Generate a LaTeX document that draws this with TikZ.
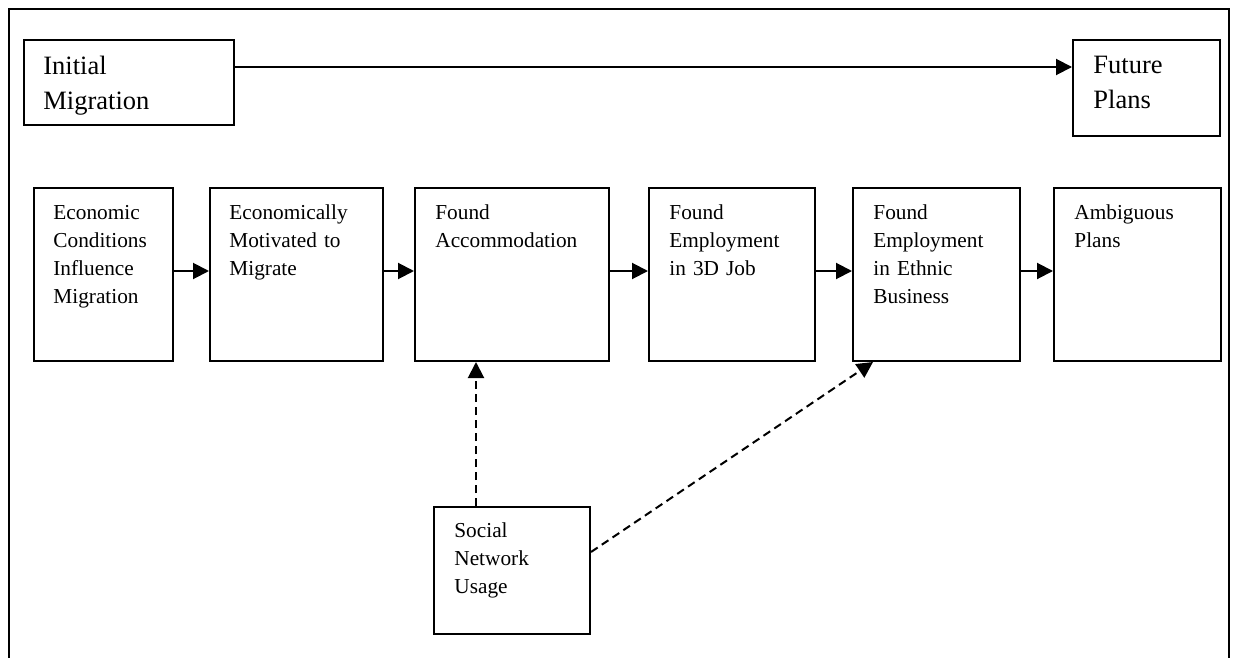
\documentclass[tikz,border=0pt]{standalone}
\usepackage{fontspec}
\setmainfont{Liberation Serif}
\usetikzlibrary{arrows.meta}
\tikzset{
	stage_b/.style = {rectangle, draw=black, line width=1pt, anchor=north west,
		inner sep=0pt},% box, no text
	stage_r/.style = {stage_b, minimum height=86.5pt},% box of the row
	stage_t/.style = {anchor=base west, inner sep=0pt, align=left, text width=90pt,
		font=\fontsize{10.65}{14.15}\selectfont},% text in a box
	stage_tl/.style = {stage_t, font=\fontsize{13.25}{17.5}\selectfont},% larger text
	flow/.style = {-{Triangle[length=8pt,width=8pt]}, line width=1pt},% arrow
	flow_d/.style = {flow, dash pattern=on 4pt off 2.5pt}% dashed arrow
}
\begin{document}
\begin{tikzpicture}[x=0.5pt,y=-0.5pt]
	\useasboundingbox (0,0) rectangle (1236,658);
	\draw[line width=1pt] (9,658) -- (9,9.5) -- (1229,9.5) -- (1229,658);
	% top line
	\node[stage_b, minimum width=105pt, minimum height=42.5pt] (initial) at (23,39) {};
	\node[stage_tl] (initial_t) at ([xshift=10pt,yshift=-18pt]initial.north west) {Initial\\Migration};
	\node[stage_b, minimum width=73.5pt, minimum height=48pt] (future) at (1072,39) {};
	\node[stage_tl] (future_t) at ([xshift=10.5pt,yshift=-17.5pt]future.north west) {Future\\Plans};
	\draw[flow] ([yshift=-14pt]initial.north east) -- ([yshift=-14pt]future.north west);
	% row of stages
	\node[stage_r, minimum width=69.5pt] (econ) at (33,187) {};
	\node[stage_t] (econ_t) at ([xshift=10pt,yshift=-16pt]econ.north west) {Economic\\Conditions\\Influence\\Migration};
	\node[stage_r, minimum width=86.5pt] (motiv) at (209,187) {};
	\node[stage_t] (motiv_t) at ([xshift=10pt,yshift=-16pt]motiv.north west) {Economically\\Motivated to\\Migrate};
	\node[stage_r, minimum width=97pt] (accom) at (414,187) {};
	\node[stage_t] (accom_t) at ([xshift=10.5pt,yshift=-16pt]accom.north west) {Found\\Accommodation};
	\node[stage_r, minimum width=83pt] (job) at (648,187) {};
	\node[stage_t] (job_t) at ([xshift=10.5pt,yshift=-16pt]job.north west) {Found\\Employment\\in 3D Job};
	\node[stage_r, minimum width=83.5pt] (ethnic) at (852,187) {};
	\node[stage_t] (ethnic_t) at ([xshift=10.5pt,yshift=-16pt]ethnic.north west) {Found\\Employment\\in Ethnic\\Business};
	\node[stage_r, minimum width=83.5pt] (plans) at (1053,187) {};
	\node[stage_t] (plans_t) at ([xshift=10.5pt,yshift=-16pt]plans.north west) {Ambiguous\\Plans};
	\foreach \a/\b in {econ/motiv, motiv/accom, accom/job, job/ethnic, ethnic/plans}
		\draw[flow] ([yshift=1.75pt]\a.east) -- ([yshift=1.75pt]\b.west);
	% social network
	\node[stage_b, minimum width=78pt, minimum height=63.5pt] (social) at (433,506) {};
	\node[stage_t] (social_t) at ([xshift=10.5pt,yshift=-15.5pt]social.north west) {Social\\Network\\Usage};
	\draw[flow_d] ([xshift=21.5pt]social.north west) coordinate (s_up) -- (s_up |- accom.south);
	\draw[flow_d] ([yshift=9.25pt]social.east) -- ([xshift=10.5pt]ethnic.south west);
\end{tikzpicture}
\end{document}
